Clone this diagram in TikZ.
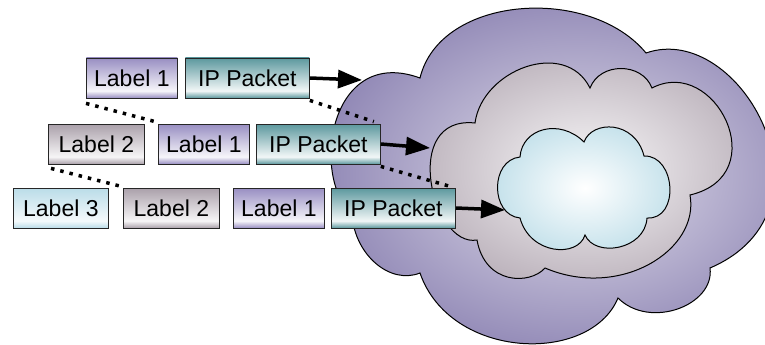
\documentclass[tikz,border=0pt]{standalone}
\usepackage{fontspec}
\setmainfont{Liberation Sans}
\usetikzlibrary{arrows.meta}

\definecolor{lonepurple}{RGB}{152,142,194}
\definecolor{ipteal}{RGB}{92,152,158}
\definecolor{ltwomauve}{RGB}{170,160,170}
\definecolor{lthreeblue}{RGB}{186,220,232}
\definecolor{cloudout}{RGB}{142,133,180}
\definecolor{cloudmid}{RGB}{184,174,184}
\definecolor{cloudin}{RGB}{194,224,234}

\pgfdeclareverticalshading{lonefill}{100bp}{color(0bp)=(lonepurple); color(25bp)=(lonepurple); color(34bp)=(lonepurple!8); color(75bp)=(lonepurple); color(100bp)=(lonepurple)}
\pgfdeclareverticalshading{ipfill}{100bp}{color(0bp)=(ipteal); color(25bp)=(ipteal); color(34bp)=(ipteal!8); color(75bp)=(ipteal); color(100bp)=(ipteal)}
\pgfdeclareverticalshading{ltwofill}{100bp}{color(0bp)=(ltwomauve); color(25bp)=(ltwomauve); color(34bp)=(ltwomauve!10); color(75bp)=(ltwomauve); color(100bp)=(ltwomauve)}
\pgfdeclareverticalshading{lthreefill}{100bp}{color(0bp)=(lthreeblue); color(25bp)=(lthreeblue); color(34bp)=(lthreeblue!15); color(75bp)=(lthreeblue); color(100bp)=(lthreeblue)}

\tikzset{
  pkt/.style={draw=black!85, line width=0.8pt, anchor=west, minimum height=40pt,
    inner sep=0pt, shade, font=\fontsize{23}{27}\selectfont},
  lone/.style={pkt, shading=lonefill, minimum width=91pt},
  ltwo/.style={pkt, shading=ltwofill, minimum width=96pt},
  lthree/.style={pkt, shading=lthreefill, minimum width=95pt},
  ippkt/.style={pkt, shading=ipfill, minimum width=124pt},
  hop/.style={line width=3.5pt, -{Triangle[length=24pt,width=18pt]}},
  tie/.style={line width=3.5pt, dash pattern=on 3.5pt off 6pt},
  cloudline/.style={draw=black, line width=1pt}
}

\begin{document}
\begin{tikzpicture}[x=1pt,y=-1pt]
  \useasboundingbox (0,0) rectangle (765,345);

  % The clouds
  \path[cloudline, inner color=cloudout!25, outer color=cloudout]
    (420,78) .. controls (440,-5) and (590,-15) .. (646,53)
    .. controls (740,20) and (845,210) .. (710,268)
    .. controls (715,305) and (650,330) .. (618,298)
    .. controls (590,365) and (450,360) .. (420,273)
    .. controls (390,285) and (355,255) .. (352,215)
    .. controls (310,175) and (330,45) .. (420,78) -- cycle;
  \path[cloudline, inner color=cloudmid!10, outer color=cloudmid]
    (475,123) .. controls (482,70) and (565,38) .. (590,88)
    .. controls (600,62) and (642,62) .. (652,88)
    .. controls (715,55) and (775,175) .. (690,195)
    .. controls (700,250) and (620,300) .. (545,268)
    .. controls (530,285) and (485,285) .. (477,240)
    .. controls (432,248) and (400,115) .. (475,123) -- cycle;
  \path[cloudline, inner color=white, outer color=cloudin]
    (520,157) .. controls (522,128) and (560,118) .. (584,142)
    .. controls (592,120) and (635,120) .. (644,156)
    .. controls (676,155) and (680,220) .. (647,218)
    .. controls (645,250) and (595,258) .. (585,235)
    .. controls (578,258) and (530,255) .. (520,218)
    .. controls (490,215) and (490,160) .. (520,157) -- cycle;

  % Where the packets enter
  \coordinate (edgeone) at (362,80);
  \coordinate (edgetwo) at (430,148);
  \coordinate (edgethree) at (505,210);

  % The packets
  \node[lone] (lone1) at (86,78) {Label 1};
  \node[ippkt] (ip1) at (185,78) {IP Packet};

  \node[ltwo] (ltwo2) at (48,144) {Label 2};
  \node[lone] (lone2) at (158,144) {Label 1};
  \node[ippkt] (ip2) at (256,144) {IP Packet};

  \node[lthree] (lthree3) at (13,208) {Label 3};
  \node[ltwo] (ltwo3) at (123,208) {Label 2};
  \node[lone] (lone3) at (233,208) {Label 1};
  \node[ippkt] (ip3) at (331,208) {IP Packet};

  % Dotted ties between the rows
  \draw[tie] ([yshift=-5pt]lone1.south west) -- ([xshift=-3pt,yshift=2pt]lone2.north west);
  \draw[tie] ([yshift=-2pt]ip1.south east) -- ([xshift=-7pt,yshift=2pt]ip2.north east);
  \draw[tie] ([xshift=3pt,yshift=-4pt]ltwo2.south west) -- ([xshift=-1pt,yshift=1pt]ltwo3.north west);
  \draw[tie] ([yshift=-2pt]ip2.south east) -- ([xshift=-5pt,yshift=1pt]ip3.north east);

  % Arrows into the clouds
  \draw[hop] (ip1.east) -- (edgeone);
  \draw[hop] (ip2.east) -- (edgetwo);
  \draw[hop] (ip3.east) -- (edgethree);
\end{tikzpicture}
\end{document}
